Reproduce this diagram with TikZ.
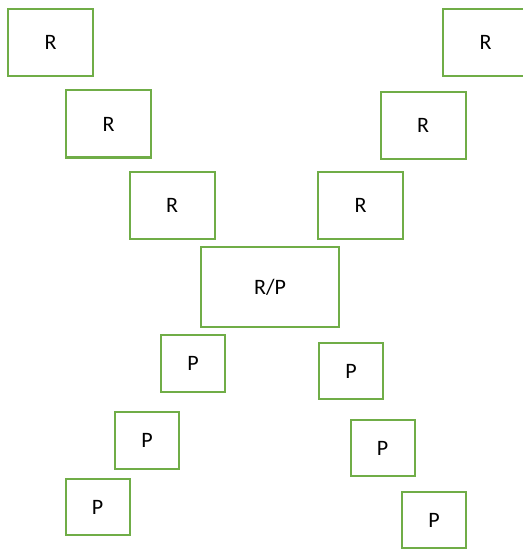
\documentclass[tikz,border=0pt]{standalone}
\usepackage{xcolor}
\usepackage{fontspec}
\setmainfont{Carlito}
\usepackage{tikz}
\definecolor{boxgreen}{HTML}{70AD47}
\tikzset{
  rbox/.style={draw=boxgreen, line width=1.5pt, inner sep=0pt,
    minimum width=63.75pt, minimum height=50.25pt},
  rpbox/.style={rbox, minimum width=103.5pt, minimum height=60pt},
  pbox/.style={rbox, minimum width=48pt, minimum height=42.5pt}
}

\begin{document}
\begin{tikzpicture}[x=0.75pt, y=-0.75pt, font=\fontsize{16.5}{19}\selectfont]
        \useasboundingbox (0,0) rectangle (522,549);

        % Left arm of R boxes
        \node [rbox] (rL1) at (50.5,42.5) {R};%
        \node [rbox] (rL2) at (108.5,124) {R};%
        \node [rbox] (rL3) at (172,205.5) {R};%

        % Right arm of R boxes (top one runs off the page)
        \node [rbox] (rR1) at (485.5,42.5) {R};%
        \node [rbox] (rR2) at (423,125.5) {R};%
        \node [rbox] (rR3) at (360.5,205.5) {R};%

        % Middle box
        \node [rpbox] (rp) at (270,287) {R/P};%

        % Left arm of P boxes
        \node [pbox] (pL1) at (193,363.5) {P};%
        \node [pbox] (pL2) at (147,440.5) {P};%
        \node [pbox] (pL3) at (97.5,507) {P};%

        % Right arm of P boxes
        \node [pbox] (pR1) at (351,371) {P};%
        \node [pbox] (pR2) at (382.5,448) {P};%
        \node [pbox] (pR3) at (434,520) {P};%
    \end{tikzpicture}
\end{document}
